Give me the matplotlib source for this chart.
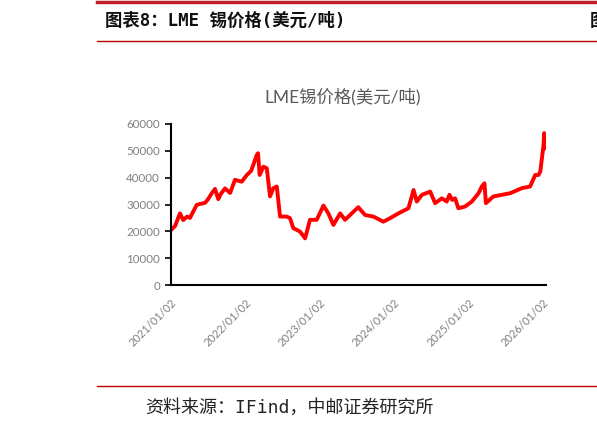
import matplotlib
matplotlib.use("Agg")
import matplotlib.pyplot as plt
import pandas as pd
from matplotlib.lines import Line2D

plt.rcParams['font.family'] = ['Noto Sans CJK SC', 'DejaVu Sans']

# ---- data ----
dates = [
    "2021-01-02", "2021-01-22", "2021-02-15", "2021-03-03", "2021-03-22", "2021-04-05",
    "2021-05-08", "2021-05-24", "2021-06-18", "2021-07-03", "2021-07-21", "2021-08-06",
    "2021-08-22", "2021-09-04", "2021-09-24", "2021-10-19", "2021-11-12", "2021-12-15",
    "2022-01-09", "2022-01-30", "2022-02-10", "2022-02-27", "2022-03-05", "2022-03-13",
    "2022-03-31", "2022-04-17", "2022-05-03", "2022-05-19", "2022-06-05", "2022-06-21",
    "2022-07-24", "2022-08-09", "2022-08-25", "2022-09-27", "2022-10-22", "2022-11-15",
    "2022-12-18", "2023-01-20", "2023-02-13", "2023-03-10", "2023-04-12", "2023-05-06",
    "2023-06-08", "2023-07-10", "2023-08-12", "2023-09-22", "2023-11-10", "2023-12-13",
    "2024-01-23", "2024-03-12", "2024-04-06", "2024-04-22", "2024-05-17", "2024-06-27",
    "2024-07-21", "2024-08-23", "2024-09-16", "2024-09-29", "2024-10-13", "2024-10-27",
    "2024-11-12", "2024-12-15", "2025-01-17", "2025-02-19", "2025-03-07", "2025-03-20",
    "2025-03-27", "2025-05-03", "2025-06-13", "2025-07-24", "2025-09-20", "2025-10-30",
    "2025-11-24", "2025-12-10", "2025-12-19", "2026-01-04", "2026-01-07", "2026-01-12",
]
prices = [
    20500, 22000, 26700, 24200, 25500, 25000,
    29850, 30200, 30600, 32000, 34200, 35800,
    32000, 34000, 36000, 34300, 39200, 38500,
    41000, 42500, 44800, 48500, 49100, 41000,
    44100, 43500, 33000, 36100, 36700, 25500,
    25500, 24900, 21200, 19900, 17400, 24300,
    24300, 29600, 26700, 22400, 26700, 24300,
    26700, 29000, 26100, 25500, 23600, 24900,
    26700, 28600, 35400, 31100, 33600, 34800,
    30500, 32300, 31100, 33600, 31700, 32300,
    28600, 29250, 31100, 34200, 36700, 37900,
    30500, 33000, 33600, 34200, 36100, 36700,
    41000, 41000, 42300, 52200, 56600, 51000,
]
yticks = [0, 10000, 20000, 30000, 40000, 50000, 60000]
xtick_dates = ["2021-01-02", "2022-01-02", "2023-01-02", "2024-01-02", "2025-01-02", "2026-01-02"]

header = "图表8：LME 锡价格(美元/吨)"
chart_title = "LME锡价格(美元/吨)"
source = "资料来源：IFind，中邮证券研究所"

W, H = 597, 426
fig = plt.figure(figsize=(W / 100, H / 100), dpi=100)

red = "#C00000"
mono_cjk = ["DejaVu Sans Mono", "Noto Sans CJK SC"]
# decorative report lines
fig.add_artist(Line2D([97 / W, 1], [1 - 1.5 / H, 1 - 1.5 / H], color="#C0202A", lw=2.5))
fig.add_artist(Line2D([97 / W, 1], [1 - 41 / H, 1 - 41 / H], color=red, lw=1.0))
fig.add_artist(Line2D([97 / W, 1], [1 - 386 / H, 1 - 386 / H], color=red, lw=1.0))

fig.text(105 / W, 1 - 21 / H, header, fontsize=12.5, fontweight="bold",
         color="#111111", va="center", ha="left", family=mono_cjk)
fig.text(590 / W, 1 - 21 / H, "图", fontsize=12.5, fontweight="bold",
         color="#111111", va="center", ha="left", family=mono_cjk)
fig.text(145 / W, 1 - 408 / H, source, fontsize=13, color="#222222",
         va="center", ha="left", family=mono_cjk, fontweight="light")
fig.text(343 / W, 1 - 97 / H, chart_title, fontsize=12.5, color="#595959",
         va="center", ha="center", family=["Lato", "Noto Sans CJK SC"])

ax = fig.add_axes([171 / W, 1 - 285 / H, (546 - 171) / W, (285 - 124) / H])
x = pd.to_datetime(dates)
ax.plot(x, prices, color="#FF0000", lw=2.8, solid_joinstyle="round")

ax.set_ylim(0, 60000)
ax.set_xlim(pd.Timestamp("2021-01-02"), pd.Timestamp("2026-01-16"))
ax.set_yticks(yticks)
ax.set_yticklabels([str(v) for v in yticks], fontsize=8.3, color="#7F7F7F",
                   family=["Lato", "DejaVu Sans"])
xt = pd.to_datetime(xtick_dates)
ax.set_xticks(xt)
ax.set_xticklabels([d.replace("-", "/") for d in xtick_dates], rotation=45,
                   ha="right", va="top", rotation_mode="anchor",
                   fontsize=8, color="#7F7F7F", family=["Lato", "DejaVu Sans"])
ax.tick_params(axis="x", length=0, pad=9)
ax.tick_params(axis="y", length=4, width=1.2, color="black", direction="out", pad=4)
for s in ["top", "right"]:
    ax.spines[s].set_visible(False)
ax.spines["left"].set_linewidth(1.5)
ax.spines["bottom"].set_linewidth(1.5)
ax.spines["left"].set_color("black")
ax.spines["bottom"].set_color("black")
ax.patch.set_alpha(0)

fig.savefig("out.png", dpi=100)
